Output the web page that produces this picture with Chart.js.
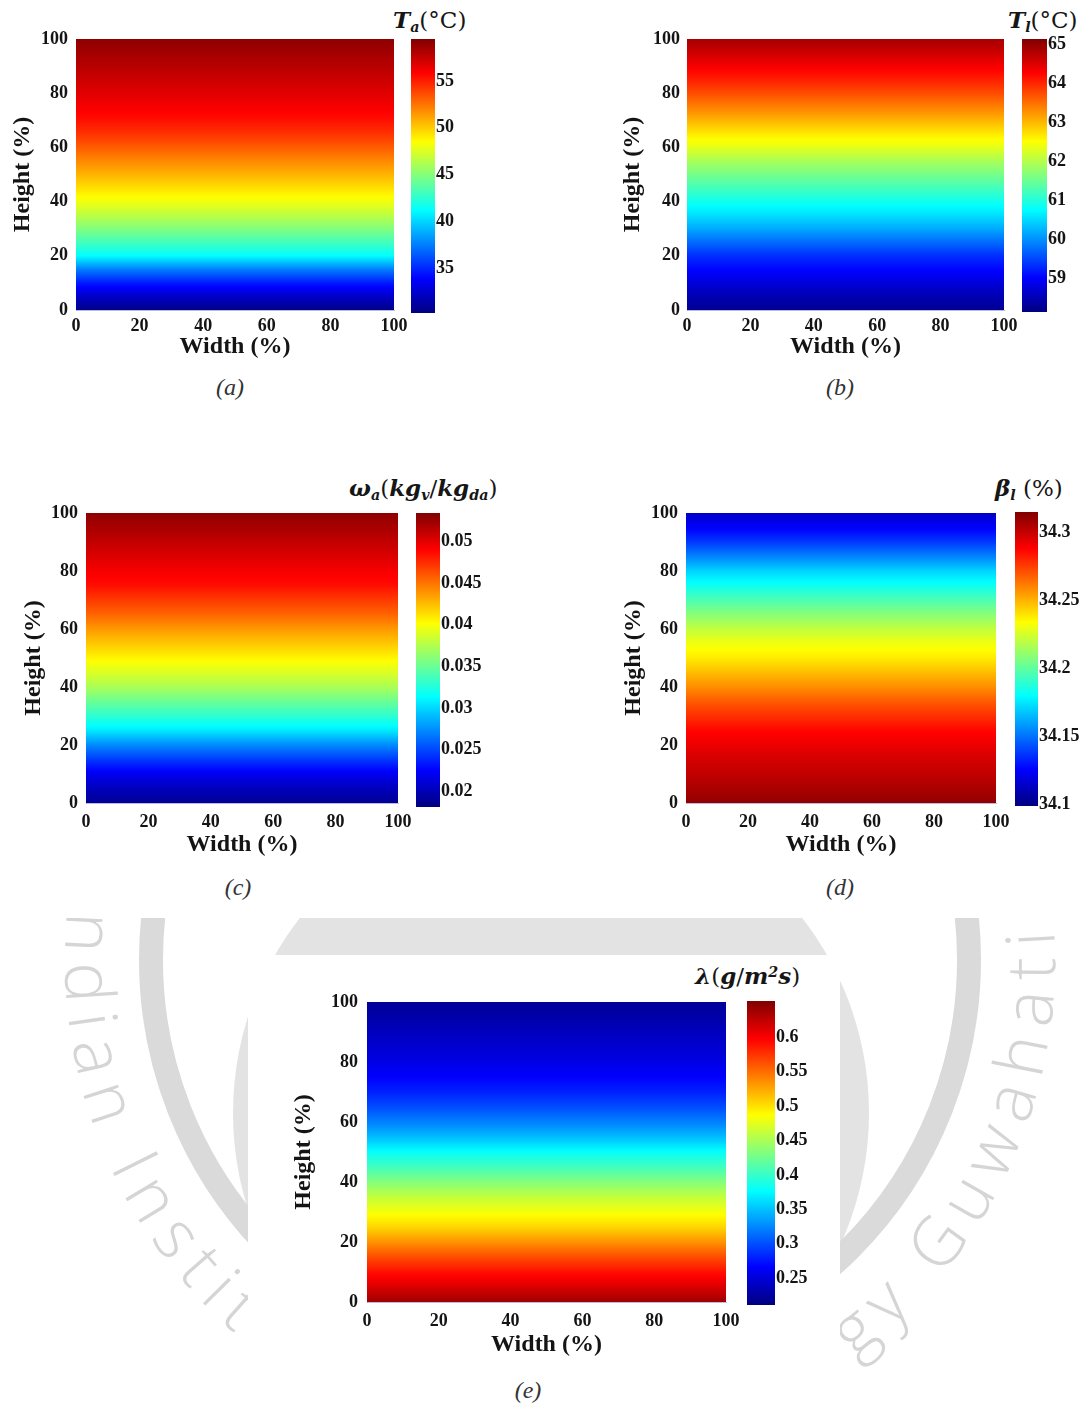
<!DOCTYPE html>
<html>
<head>
<meta charset="utf-8">
<title>Vertical profiles</title>
<script src="https://cdn.jsdelivr.net/npm/chart.js@4.4.1/dist/chart.umd.min.js"></script>
<style>
  html, body { margin: 0; padding: 0; background: #fff; }
  #page { position: relative; width: 1089px; height: 1405px; overflow: hidden; background: #fff; }
  #page canvas { position: absolute; }
  .cbtitle { position: absolute; white-space: nowrap; font-family: 'DejaVu Serif', serif; font-size: 23px; line-height: 1; color: #161616; }
  .cbtitle i { font-weight: bold; }
  .cbtitle .sb { font-size: 0.62em; position: relative; top: 0.28em; }
  .cbtitle .sp { font-size: 0.62em; position: relative; top: -0.5em; }
  .cap { position: absolute; font-family: 'Liberation Serif', serif; font-style: italic; font-size: 24px; line-height: 1; color: #333; transform: translate(-50%, -50%); }
  #ebox { position: absolute; left: 248px; top: 955px; width: 592px; height: 450px; background: #fff; }
</style>
</head>
<body>
<div id="page">
  <svg width="1089" height="1405" style="position:absolute;left:0;top:0">
    <defs>
      <clipPath id="below"><rect x="0" y="918" width="1089" height="487"/></clipPath>
      <path id="rim" d="M 71.1 882.6 A 495 495 0 1 0 1038.1 831.9"/>
    </defs>
    <g clip-path="url(#below)">
      <circle cx="551" cy="1113" r="318" fill="#e3e3e3"/>
      <circle cx="560" cy="960" r="409" fill="none" stroke="#dadada" stroke-width="24"/>
      <text font-family="Open Sans" font-weight="300" font-size="68" fill="#d5d5d5" letter-spacing="12">
        <textPath href="#rim">Indian Institute of Technology Guwahati</textPath>
      </text>
    </g>
  </svg>
  <div id="ebox"></div>

  <div class="cbtitle" style="left:393px;top:8px"><i>T</i><i class="sb">a</i>(°C)</div>
  <div class="cbtitle" style="left:1008px;top:8px"><i>T</i><i class="sb">l</i>(°C)</div>
  <div class="cbtitle" style="left:349px;top:476px"><i>ω</i><i class="sb">a</i>(<i>kg</i><i class="sb">v</i>/<i>kg</i><i class="sb">da</i>)</div>
  <div class="cbtitle" style="left:995px;top:476px"><i>β</i><i class="sb">l</i> (%)</div>
  <div class="cbtitle" style="left:695px;top:964px"><i>λ</i>(<i>g</i>/<i>m</i><i class="sp">2</i><i>s</i>)</div>

  <div class="cap" style="left:230px;top:387px">(a)</div>
  <div class="cap" style="left:840px;top:387px">(b)</div>
  <div class="cap" style="left:238px;top:887px">(c)</div>
  <div class="cap" style="left:840px;top:887px">(d)</div>
  <div class="cap" style="left:528px;top:1390px">(e)</div>
</div>

<script>
// sample heights (% of column height) and the axis ticks
const HEIGHTS = [0, 5, 10, 15, 20, 25, 30, 35, 40, 45, 50, 55, 60, 65, 70, 75, 80, 85, 90, 95, 100];
const AXIS_TICKS = [0, 20, 40, 60, 80, 100];

// air temperature, °C
const T_AIR = [30.5, 32.3, 34.6, 37.5, 41.2, 43.1, 44.9, 46.6, 48.1, 49.4, 50.7, 51.9, 53.2, 54.4, 55.4, 56.1, 56.7, 57.3, 57.9, 58.5, 59.1];
const T_AIR_SCALE = [30.2, 59.5];
const T_AIR_TICKS = [35, 40, 45, 50, 55];

// liquid temperature, °C
const T_LIQ = [58.27, 58.48, 58.76, 59.04, 59.32, 59.74, 60.17, 60.55, 60.87, 61.22, 61.57, 61.92, 62.34, 62.66, 63.04, 63.40, 63.75, 64.06, 64.34, 64.62, 64.90];
const T_LIQ_SCALE = [58.13, 65.15];
const T_LIQ_TICKS = [59, 60, 61, 62, 63, 64, 65];

// air humidity ratio, kg_v/kg_da
const OMEGA_AIR = [0.0188, 0.0202, 0.0220, 0.0245, 0.0273, 0.0306, 0.0329, 0.0350, 0.0372, 0.0389, 0.0405, 0.0421, 0.0437, 0.0455, 0.0470, 0.0485, 0.0493, 0.0502, 0.0511, 0.0520, 0.0529];
const OMEGA_SCALE = [0.0181, 0.0534];
const OMEGA_TICKS = [0.02, 0.025, 0.03, 0.035, 0.04, 0.045, 0.05];

// liquid concentration, %
const BETA_LIQ = [34.311, 34.306, 34.301, 34.297, 34.292, 34.287, 34.278, 34.269, 34.258, 34.248, 34.238, 34.231, 34.221, 34.209, 34.196, 34.183, 34.171, 34.154, 34.138, 34.125, 34.114];
const BETA_SCALE = [34.099, 34.315];
const BETA_TICKS = [34.1, 34.15, 34.2, 34.25, 34.3];

// mass transfer rate, g/m2s
const LAMBDA = [0.640, 0.613, 0.591, 0.565, 0.534, 0.505, 0.483, 0.461, 0.434, 0.405, 0.379, 0.348, 0.322, 0.299, 0.280, 0.266, 0.255, 0.246, 0.238, 0.229, 0.222];
const LAMBDA_SCALE = [0.211, 0.653];
const LAMBDA_TICKS = [0.25, 0.3, 0.35, 0.4, 0.45, 0.5, 0.55, 0.6];

// page placement: plot box, colorbar box, axis title centres
const PANELS = [
  { values: T_AIR, scale: T_AIR_SCALE, ticks: T_AIR_TICKS, plot: [76, 39, 394, 310], bar: [411, 39, 435, 313], yTitleX: 23, xTitleY: 347, xPad: 6, yPad: 8 },
  { values: T_LIQ, scale: T_LIQ_SCALE, ticks: T_LIQ_TICKS, plot: [687, 39, 1004, 310], bar: [1022, 39, 1047, 312], yTitleX: 633, xTitleY: 347, xPad: 6, yPad: 7 },
  { values: OMEGA_AIR, scale: OMEGA_SCALE, ticks: OMEGA_TICKS, plot: [86, 513, 398, 803], bar: [416, 513, 440, 807], yTitleX: 34, xTitleY: 845, xPad: 9, yPad: 8 },
  { values: BETA_LIQ, scale: BETA_SCALE, ticks: BETA_TICKS, plot: [686, 513, 996, 803], bar: [1015, 512, 1038, 806], yTitleX: 634, xTitleY: 845, xPad: 9, yPad: 8 },
  { values: LAMBDA, scale: LAMBDA_SCALE, ticks: LAMBDA_TICKS, plot: [367, 1002, 726, 1302], bar: [747, 1001, 775, 1305], yTitleX: 304, xTitleY: 1345, xPad: 9, yPad: 9 }
];

const page = document.getElementById('page');
const TICK_FONT = { family: 'Liberation Serif', size: 18, weight: 'bold' };
const TITLE_FONT = { family: 'Liberation Serif', size: 24, weight: 'bold', lineHeight: 1 };
const INK = '#141414';
const EDGE = 'rgba(170,170,215,0.8)';

// MATLAB-style jet colormap
function jet(t) {
  t = Math.min(1, Math.max(0, t));
  const c = x => Math.round(255 * Math.min(1, Math.max(0, 1.5 - Math.abs(x))));
  return 'rgb(' + c(4 * t - 3) + ',' + c(4 * t - 2) + ',' + c(4 * t - 1) + ')';
}

function normalise(v, scale) {
  return (v - scale[0]) / (scale[1] - scale[0]);
}

// vertical gradient through the sampled profile
function fieldFill(chart, values, scale) {
  const { ctx, chartArea, scales } = chart;
  if (!chartArea) return 'transparent';
  const y = scales.y;
  const y0 = y.getPixelForValue(HEIGHTS[0]);
  const y1 = y.getPixelForValue(HEIGHTS[HEIGHTS.length - 1]);
  const g = ctx.createLinearGradient(0, y0, 0, y1);
  const STEPS = 8;
  for (let i = 0; i < HEIGHTS.length - 1; i++) {
    for (let k = 0; k < STEPS; k++) {
      const f = k / STEPS;
      const h = HEIGHTS[i] + f * (HEIGHTS[i + 1] - HEIGHTS[i]);
      const v = values[i] + f * (values[i + 1] - values[i]);
      g.addColorStop((y.getPixelForValue(h) - y0) / (y1 - y0), jet(normalise(v, scale)));
    }
  }
  g.addColorStop(1, jet(normalise(values[values.length - 1], scale)));
  return g;
}

function barFill(chart, scale) {
  const { ctx, chartArea, scales } = chart;
  if (!chartArea) return 'transparent';
  const y = scales.y;
  const g = ctx.createLinearGradient(0, y.getPixelForValue(scale[0]), 0, y.getPixelForValue(scale[1]));
  [0, 0.125, 0.375, 0.625, 0.875, 1].forEach(t => g.addColorStop(t, jet(t)));
  return g;
}

const fixTicks = list => axis => { axis.ticks = list.map(value => ({ value })); };

function addCanvas(left, top, w, h) {
  const c = document.createElement('canvas');
  c.width = w;
  c.height = h;
  c.style.left = left + 'px';
  c.style.top = top + 'px';
  page.appendChild(c);
  return c;
}

// room kept round the plot box; top and right must exceed label overhang + tick padding
const YW = 80, PT = 26, PR = 32, XH = 58;

function addField(p) {
  const [x0, y0, x1, y1] = p.plot;
  const left = x0 - YW, top = y0 - PT;
  const canvas = addCanvas(left, top, YW + (x1 - x0) + PR, PT + (y1 - y0) + XH);
  new Chart(canvas, {
    type: 'line',
    data: {
      datasets: [{
        data: [
          { x: AXIS_TICKS[0], y: HEIGHTS[HEIGHTS.length - 1] },
          { x: AXIS_TICKS[AXIS_TICKS.length - 1], y: HEIGHTS[HEIGHTS.length - 1] }
        ],
        fill: 'origin',
        backgroundColor: ctx => fieldFill(ctx.chart, p.values, p.scale),
        borderWidth: 0,
        pointRadius: 0
      }]
    },
    options: {
      responsive: false,
      animation: false,
      layout: { padding: { left: 0, top: PT, right: PR, bottom: 0 } },
      plugins: { legend: { display: false }, tooltip: { enabled: false } },
      scales: {
        x: {
          type: 'linear', min: 0, max: 100,
          afterBuildTicks: fixTicks(AXIS_TICKS),
          afterFit: s => { s.height = XH; },
          grid: { display: false, drawTicks: false },
          border: { display: true, color: EDGE, width: 1 },
          ticks: { font: TICK_FONT, color: INK, padding: p.xPad, maxRotation: 0, autoSkip: false, callback: v => String(v) },
          title: { display: true, text: 'Width (%)', font: TITLE_FONT, color: INK, padding: { top: 0, bottom: y1 + XH - 12 - p.xTitleY } }
        },
        y: {
          type: 'linear', min: 0, max: 100,
          afterBuildTicks: fixTicks(AXIS_TICKS),
          afterFit: s => { s.width = YW; },
          grid: { display: false, drawTicks: false },
          border: { display: true, color: EDGE, width: 1 },
          ticks: { font: TICK_FONT, color: INK, padding: p.yPad, autoSkip: false, callback: v => String(v) },
          title: { display: true, text: 'Height (%)', font: TITLE_FONT, color: INK, padding: { top: p.yTitleX - left - 12, bottom: 0 } }
        }
      }
    }
  });
}

const CBW = 70, CBP = 16;

function addColorbar(p) {
  const [x0, y0, x1, y1] = p.bar;
  const canvas = addCanvas(x0, y0 - CBP, (x1 - x0) + CBW, (y1 - y0) + 2 * CBP);
  new Chart(canvas, {
    type: 'line',
    data: {
      datasets: [{
        data: [{ x: 0, y: p.scale[1] }, { x: 1, y: p.scale[1] }],
        fill: { value: p.scale[0] },
        backgroundColor: ctx => barFill(ctx.chart, p.scale),
        borderWidth: 0,
        pointRadius: 0
      }]
    },
    options: {
      responsive: false,
      animation: false,
      layout: { padding: { left: 0, top: CBP, right: 0, bottom: CBP } },
      plugins: { legend: { display: false }, tooltip: { enabled: false } },
      scales: {
        x: { type: 'linear', min: 0, max: 1, display: false },
        y: {
          type: 'linear', position: 'right', min: p.scale[0], max: p.scale[1],
          afterBuildTicks: fixTicks(p.ticks),
          afterFit: s => { s.width = CBW; },
          grid: { display: false, drawTicks: false },
          border: { display: false },
          ticks: { font: TICK_FONT, color: INK, padding: 1, autoSkip: false, callback: v => String(v) }
        }
      }
    }
  });
}

PANELS.forEach(p => {
  addField(p);
  addColorbar(p);
});
</script>
</body>
</html>
